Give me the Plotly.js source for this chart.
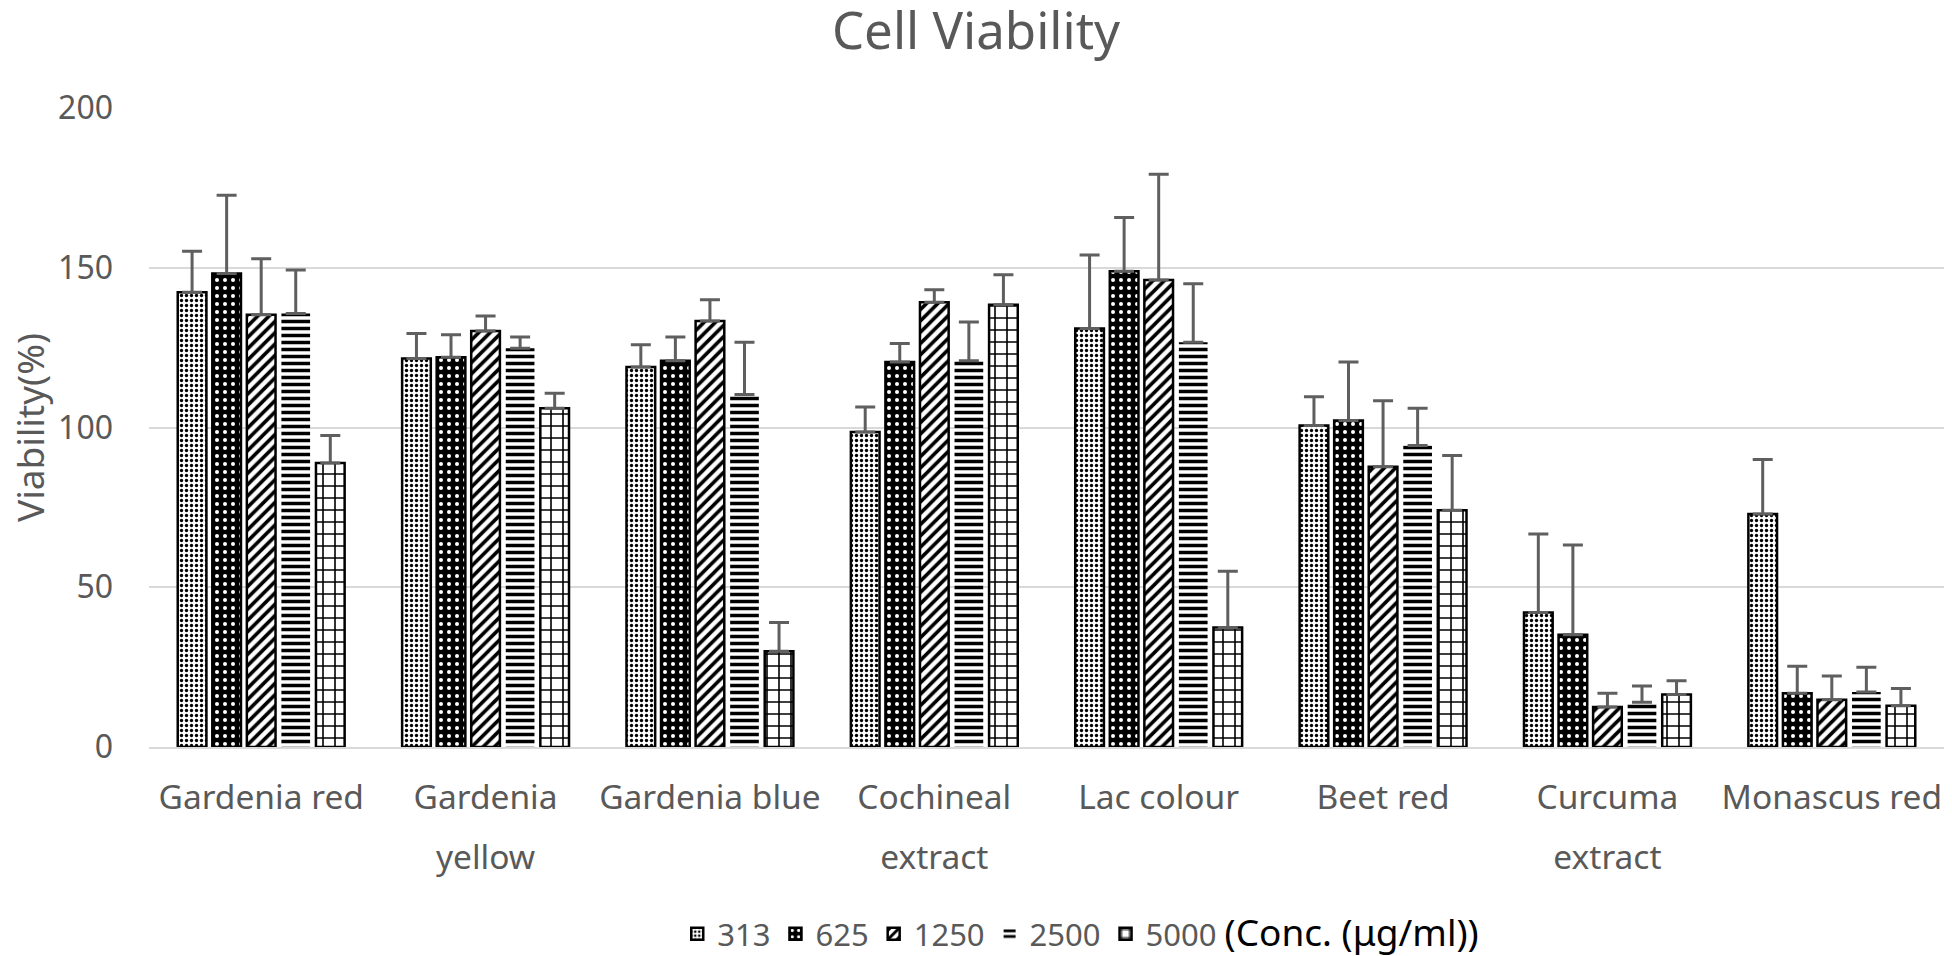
<!DOCTYPE html>
<html>
<head>
<meta charset="utf-8">
<script src="https://cdn.plot.ly/plotly-3.0.1.min.js"></script>
<style>html,body{margin:0;padding:0;background:#fff;}#chart{width:1952px;height:956px;}</style>
</head>
<body>
<div id="chart"></div>
<script>
const categories = ["Gardenia red", "Gardenia<br>yellow", "Gardenia blue", "Cochineal<br>extract", "Lac colour", "Beet red", "Curcuma<br>extract", "Monascus red"];
const seriesNames = ["313", "625", "1250", "2500", "5000"];
const unitLabel = "(Conc. (μg/ml))";

const v313  = [142.3, 121.6, 118.9, 98.6, 131.0, 100.6, 42.1, 72.9];
const e313  = [12.9, 7.8, 7.0, 7.8, 23.0, 9.0, 24.6, 17.1];
const v625  = [148.2, 122.0, 120.9, 120.5, 148.9, 102.2, 35.1, 16.8];
const e625  = [24.5, 7.0, 7.4, 5.8, 16.8, 18.3, 28.1, 8.5];
const v1250 = [135.3, 130.2, 133.3, 139.2, 146.2, 87.7, 12.5, 14.8];
const e1250 = [17.5, 4.7, 6.7, 3.9, 33.1, 20.7, 4.3, 7.4];
const v2500 = [135.7, 124.8, 110.3, 120.9, 126.7, 94.4, 14.0, 17.2];
const e2500 = [13.6, 3.5, 16.4, 12.1, 18.3, 11.6, 5.1, 7.8];
const v5000 = [88.9, 106.0, 30.0, 138.4, 37.4, 74.1, 16.4, 12.9];
const e5000 = [8.6, 4.7, 9.0, 9.4, 17.6, 17.1, 4.3, 5.4];

const values = [v313, v625, v1250, v2500, v5000];
const errors = [e313, e625, e1250, e2500, e5000];

const patterns = [
  {shape: ".", fgcolor: "#000", bgcolor: "#fff", size: 5, solidity: 0.35, fillmode: "replace"},
  {shape: ".", fgcolor: "#fff", bgcolor: "#000", size: 8, solidity: 0.2, fillmode: "replace"},
  {shape: "/", fgcolor: "#000", bgcolor: "#fff", size: 8, solidity: 0.45, fillmode: "replace"},
  {shape: "-", fgcolor: "#000", bgcolor: "#fff", size: 7, solidity: 0.5, fillmode: "replace"},
  {shape: "+", fgcolor: "#000", bgcolor: "#fff", size: 12, solidity: 0.25, fillmode: "replace"}
];
const lineWidths = [2.5, 2.5, 2.5, 0, 2.5];

const traces = seriesNames.map((name, i) => ({
  type: "bar",
  name: i === seriesNames.length - 1
    ? name + " <span style='color:#000;font-size:37px'>" + unitLabel + "</span>"
    : name,
  x: categories,
  y: values[i],
  marker: {
    color: patterns[i].bgcolor,
    pattern: patterns[i],
    line: {color: "#000", width: lineWidths[i]}
  },
  error_y: {
    type: "data", symmetric: false, array: errors[i],
    arrayminus: errors[i].map(() => 0),
    color: "#5f5f5f", thickness: 3, width: 10
  }
}));

const layout = {
  width: 1952, height: 956,
  margin: {l: 149, r: 8, t: 108, b: 209},
  paper_bgcolor: "#fff", plot_bgcolor: "#fff",
  font: {family: "Noto Sans, sans-serif", color: "#595959", size: 31},
  title: {text: "Cell Viability", x: 0.5, xanchor: "center", yref: "container", y: 0.967, yanchor: "middle",
          font: {size: 51, color: "#595959"}},
  barmode: "group",
  bargap: 0.23,
  bargroupgap: 0.17,
  showlegend: true,
  legend: {orientation: "h", x: 0.2943, xanchor: "left", yref: "container", y: 0.023, yanchor: "middle",
           font: {size: 31, color: "#595959"}, itemwidth: 30, tracegroupgap: 0},
  xaxis: {
    type: "category", showgrid: false, showline: true, linecolor: "#d9d9d9", linewidth: 2,
    ticks: "", tickfont: {size: 33.5, color: "#595959"}, ticklabelstandoff: 20,
    zeroline: false, automargin: false
  },
  yaxis: {
    range: [0, 200], dtick: 50, tick0: 0, showgrid: true, gridcolor: "#d9d9d9", gridwidth: 2,
    zeroline: false, showline: false, ticks: "", ticklabelstandoff: 35,
    tickfont: {size: 32, color: "#595959"}, automargin: false,
    title: {text: "Viability(%)", font: {size: 37, color: "#595959"}, standoff: 2}
  }
};

function spreadLines() {
  try {
    document.querySelectorAll("#chart .xtick text").forEach(t => {
      const lines = t.querySelectorAll("tspan.line");
      lines.forEach((ln, k) => {
        if (k === 0) return;
        const dy = ln.getAttribute("dy");
        if (dy && dy.endsWith("em")) {
          const v = parseFloat(dy);
          if (v > 0) ln.setAttribute("dy", (v * 1.38).toFixed(3) + "em");
        }
      });
    });
  } catch (e) {}
}

Plotly.newPlot("chart", traces, layout, {displayModeBar: false, staticPlot: true}).then(spreadLines);
</script>
</body>
</html>
